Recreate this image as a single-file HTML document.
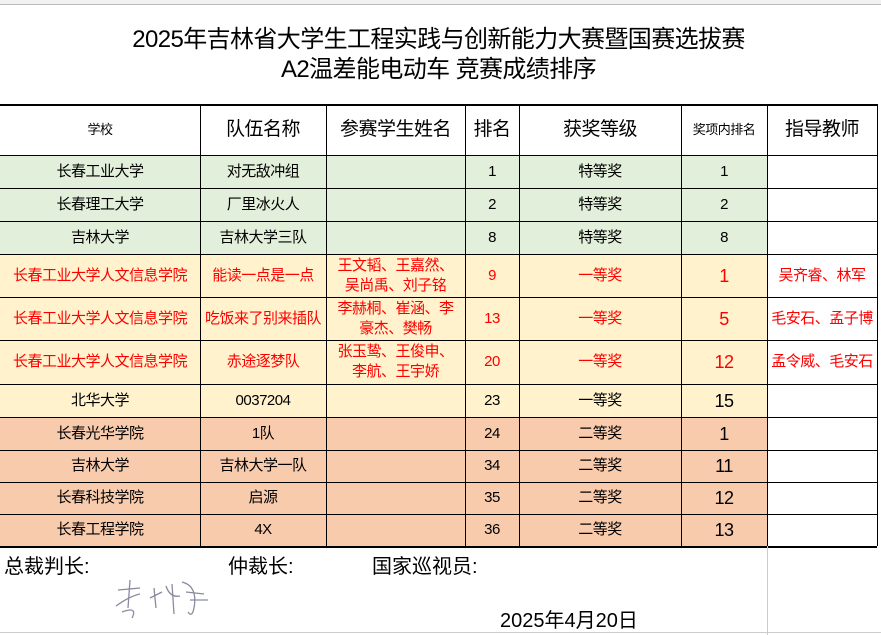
<!DOCTYPE html>
<html><head><meta charset="utf-8"><style>
*{margin:0;padding:0;box-sizing:border-box}
body{width:881px;height:635px;background:#fff;position:relative;overflow:hidden;font-family:"Liberation Sans","Noto Sans CJK SC",sans-serif;color:#000}
.a{position:absolute}
.c{position:absolute;display:flex;align-items:center;justify-content:center;text-align:center;font-size:14px;line-height:20px;letter-spacing:-0.5px}
.hl{position:absolute;height:1px;background:#000;left:0;width:877px}
.vl{position:absolute;width:1px;background:#000}
.r{color:#ff0000}
</style></head><body>
<div class="a" style="left:0;top:0;width:881px;height:5px;background:#f2f2f2;border-bottom:1px solid #bbb"></div>
<div class="a" style="left:0;top:25px;width:877px;text-align:center;font-size:24px;line-height:30px;letter-spacing:-0.6px">2025年吉林省大学生工程实践与创新能力大赛暨国赛选拔赛<br>A2温差能电动车 竞赛成绩排序</div>
<div class="a" style="left:0;top:155px;width:767px;height:99px;background:#e2efda"></div>
<div class="a" style="left:0;top:254px;width:767px;height:163px;background:#fff2cc"></div>
<div class="a" style="left:0;top:417px;width:767px;height:129px;background:#f8cbad"></div>
<div id="g"></div>
<script>
var X=[0,200,326,465,519,681,767,877];
var Y=[104,155,188,221,254,297,340,384,417,450,482,514,546];
var rows=[
["学校","队伍名称","参赛学生姓名","排名","获奖等级","奖项内排名","指导教师"],
["长春工业大学","对无敌冲组","","1","特等奖","1",""],
["长春理工大学","厂里冰火人","","2","特等奖","2",""],
["吉林大学","吉林大学三队","","8","特等奖","8",""],
["长春工业大学人文信息学院","能读一点是一点","王文韬、王嘉然、<br>吴尚禹、刘子铭","9","一等奖","1","吴齐睿、林军"],
["长春工业大学人文信息学院","吃饭来了别来插队","李赫桐、崔涵、李<br>豪杰、樊畅","13","一等奖","5","毛安石、孟子博"],
["长春工业大学人文信息学院","赤途逐梦队","张玉鸷、王俊申、<br>李航、王宇娇","20","一等奖","12","孟令威、毛安石"],
["北华大学","0037204","","23","一等奖","15",""],
["长春光华学院","1队","","24","二等奖","1",""],
["吉林大学","吉林大学一队","","34","二等奖","11",""],
["长春科技学院","启源","","35","二等奖","12",""],
["长春工程学院","4X","","36","二等奖","13",""]];
var h="";
for(var i=0;i<rows.length;i++){for(var j=0;j<7;j++){
 var fs=15;
 if(i==0){fs=(j==0||j==5)?13:19;}
 else if(j==5&&i>=4)fs=18;
 var cls=(i>=4&&i<=6)?"c r":"c";
 h+='<div class="'+cls+'" style="left:'+X[j]+'px;top:'+Y[i]+'px;width:'+(X[j+1]-X[j])+'px;height:'+(Y[i+1]-Y[i])+'px;font-size:'+fs+'px">'+rows[i][j]+'</div>';
}}
for(var i=0;i<Y.length;i++)h+='<div class="hl" style="top:'+Y[i]+'px;'+((i==0||i==Y.length-1)?'height:2px;':'')+'"></div>';
for(var j=1;j<X.length;j++)h+='<div class="vl" style="left:'+X[j]+'px;top:104px;height:442px"></div>';
document.getElementById('g').innerHTML=h;
</script>
<div class="a" style="left:767px;top:546px;width:1px;height:89px;background:#ccc"></div>
<div class="a" style="left:0;top:632px;width:881px;height:1px;background:#ccc"></div>
<div class="a" style="left:4px;top:550px;font-size:20px">总裁判长:</div>
<div class="a" style="left:228px;top:550px;font-size:20px">仲裁长:</div>
<div class="a" style="left:372px;top:550px;font-size:20px">国家巡视员:</div>
<div class="a" style="left:500px;top:604px;font-size:20px">2025年4月20日</div>
<svg class="a" style="left:110px;top:578px" width="115" height="45"><g fill="none" stroke="#8a8aa0" stroke-width="1.3"><path d="M8 12 L30 10 M20 2 L18 30 M6 28 Q20 18 30 16 M12 34 Q28 28 22 40 M40 20 L52 14 M44 10 L46 30 M56 8 Q60 20 70 18 M62 6 L64 36 M72 4 Q88 8 84 30 Q82 40 78 34 M76 14 L94 16 M80 22 L98 22"/></g></svg>
</body></html>
